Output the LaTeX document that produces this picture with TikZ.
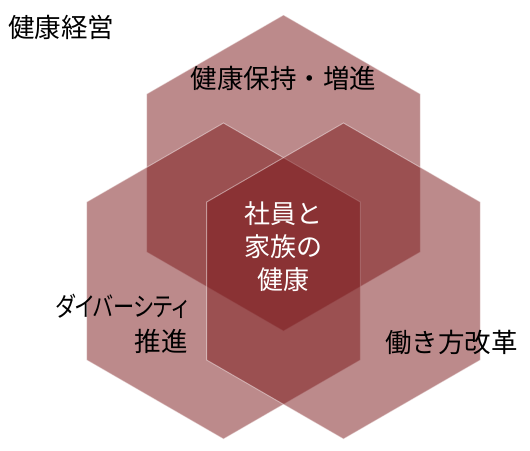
\documentclass[tikz,border=0pt]{standalone}
\usepackage{fontspec}
\usepackage{graphicx}
\setmainfont{Noto Sans CJK JP}
\newfontfamily\paltfont[RawFeature=+palt]{Noto Sans CJK JP}
\usetikzlibrary{calc}
\definecolor{hexred}{RGB}{122,22,24}
\tikzset{
  hexstyle/.style={fill=hexred, fill opacity=0.5, draw=white, draw opacity=0.45, line width=0.9pt},
  lbl/.style={font=\fontsize{26.5}{33}\selectfont, text=black, inner sep=0pt},
  clbl/.style={font=\fontsize{26}{33}\selectfont, text=white, inner sep=0pt, align=center}
}
\newcommand{\myhex}[1]{%
  \path[hexstyle] ($(#1)+(90:158)$) -- ($(#1)+(150:158)$) -- ($(#1)+(210:158)$) --
    ($(#1)+(270:158)$) -- ($(#1)+(330:158)$) -- ($(#1)+(30:158)$) -- cycle;}
\begin{document}
\begin{tikzpicture}[x=1pt,y=-1pt]
\useasboundingbox (0,0) rectangle (530,450);
\coordinate (ctop) at (283.5,173);
\coordinate (cleft) at (223.5,281);
\coordinate (cright) at (343.5,281);
\myhex{ctop}
\myhex{cleft}
\myhex{cright}
\node[lbl, anchor=west] (title) at (8,27) {健康経営};
\node[lbl] (top) at (283.5,78) {健康保持・増進};
\node[clbl] (center) at (283.5,247) {社員と\\家族の\\健康};
\node[lbl, align=right, anchor=east, font=\fontsize{26.5}{35}\selectfont\paltfont] (left) at (188,324) {\scalebox{0.8}[1]{ダイバーシティ}\\推進};
\node[lbl] (right) at (451.5,342) {働き方改革};
\end{tikzpicture}
\end{document}
